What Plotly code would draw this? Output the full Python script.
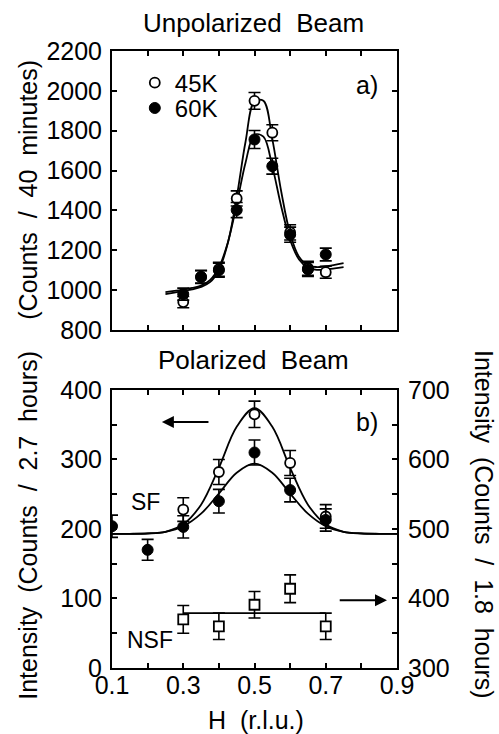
import plotly.graph_objects as go

# ---------------- data ----------------
# panel a) unpolarized beam
h_top = [0.3, 0.35, 0.4, 0.45, 0.5, 0.55, 0.6, 0.65, 0.7]
counts_45K = [940, 1065, 1105, 1460, 1950, 1790, 1290, 1110, 1090]
counts_60K = [980, 1067, 1100, 1402, 1756, 1622, 1278, 1104, 1179]
err_45K = [28, 32, 35, 38, 42, 40, 38, 35, 30]
err_60K = [30, 32, 35, 38, 45, 40, 38, 35, 32]

fit_h_top = [0.25, 0.275, 0.3, 0.325, 0.35, 0.375, 0.4, 0.425, 0.45, 0.475, 0.5,
             0.525, 0.55, 0.575, 0.6, 0.625, 0.65, 0.675, 0.7, 0.725, 0.75]
fit_45K = [980, 988, 996, 1004, 1016, 1040, 1101, 1235, 1466, 1746, 1947,
           1950, 1758, 1495, 1283, 1167, 1124, 1116, 1120, 1127, 1135]
fit_60K = [990, 996, 1003, 1011, 1023, 1050, 1114, 1238, 1430, 1641, 1780,
           1770, 1621, 1420, 1252, 1154, 1113, 1102, 1104, 1109, 1115]

# panel b) polarized beam
h_sf_open = [0.3, 0.4, 0.5, 0.6, 0.7]
sf_open = [228, 282, 365, 295, 218]
err_sf_open = [17, 18, 19, 18, 17]
h_sf_filled = [0.1, 0.2, 0.3, 0.4, 0.5, 0.6, 0.7]
sf_filled = [204, 170, 203, 240, 310, 256, 213]
err_sf_filled = [16, 15, 16, 17, 18, 17, 16]

fit_h_bot = [0.1, 0.15, 0.2, 0.25, 0.3, 0.35, 0.4, 0.45, 0.5,
             0.55, 0.6, 0.65, 0.7, 0.75, 0.8, 0.85, 0.9]
fit_sf_open = [193, 193, 193.5, 196, 206.7, 235, 288, 347, 374,
               347, 288, 235, 206.7, 196, 193.5, 193, 193]
fit_sf_filled = [193, 193.1, 193.7, 196, 204, 222, 251, 281, 294,
                 281, 251, 222, 204, 196, 193.7, 193.1, 193]

h_nsf = [0.3, 0.4, 0.5, 0.6, 0.7]
nsf = [370, 360, 391, 414, 360]          # right axis
err_nsf = [20, 19, 19, 20, 19]
fit_h_nsf = [0.3, 0.7]
fit_nsf = [379, 379]

x_ticks = [0.1, 0.2, 0.3, 0.4, 0.5, 0.6, 0.7, 0.8, 0.9]
x_ticktext = ["0.1", "", "0.3", "", "0.5", "", "0.7", "", "0.9"]
y_top_ticks = [800, 1000, 1200, 1400, 1600, 1800, 2000, 2200]
y_left_ticks = [0, 50, 100, 150, 200, 250, 300, 350, 400]
y_left_text = ["0", "", "100", "", "200", "", "300", "", "400"]
y_right_ticks = [300, 350, 400, 450, 500, 550, 600, 650, 700]
y_right_text = ["300", "", "400", "", "500", "", "600", "", "700"]

FONT = "Liberation Sans, Arial, sans-serif"
BLACK = "black"
SP = "\u00a0\u00a0"

fig = go.Figure()


def eb(vals):
    return dict(type="data", array=vals, visible=True, color=BLACK, thickness=1.6, width=6)


# ---- top panel ----
fig.add_trace(go.Scatter(x=fit_h_top, y=fit_45K, mode="lines", line=dict(color=BLACK, width=1.8, shape="spline"),
                         xaxis="x2", yaxis="y2", showlegend=False, hoverinfo="skip"))
fig.add_trace(go.Scatter(x=fit_h_top, y=fit_60K, mode="lines", line=dict(color=BLACK, width=1.8, shape="spline"),
                         xaxis="x2", yaxis="y2", showlegend=False, hoverinfo="skip"))
fig.add_trace(go.Scatter(x=h_top, y=counts_45K, mode="markers", name="45K", error_y=eb(err_45K),
                         marker=dict(symbol="circle", size=10, color="white", line=dict(color=BLACK, width=1.8)),
                         xaxis="x2", yaxis="y2", legend="legend"))
fig.add_trace(go.Scatter(x=h_top, y=counts_60K, mode="markers", name="60K", error_y=eb(err_60K),
                         marker=dict(symbol="circle", size=11, color=BLACK, line=dict(color=BLACK, width=1)),
                         xaxis="x2", yaxis="y2", legend="legend2"))

# ---- bottom panel ----
fig.add_trace(go.Scatter(x=fit_h_bot, y=fit_sf_open, mode="lines", line=dict(color=BLACK, width=1.8, shape="spline"),
                         xaxis="x", yaxis="y", showlegend=False, hoverinfo="skip"))
fig.add_trace(go.Scatter(x=fit_h_bot, y=fit_sf_filled, mode="lines", line=dict(color=BLACK, width=1.8, shape="spline"),
                         xaxis="x", yaxis="y", showlegend=False, hoverinfo="skip"))
fig.add_trace(go.Scatter(x=h_sf_open, y=sf_open, mode="markers", error_y=eb(err_sf_open), showlegend=False,
                         marker=dict(symbol="circle", size=10, color="white", line=dict(color=BLACK, width=1.8)),
                         xaxis="x", yaxis="y"))
fig.add_trace(go.Scatter(x=h_sf_filled, y=sf_filled, mode="markers", error_y=eb(err_sf_filled), showlegend=False,
                         marker=dict(symbol="circle", size=11, color=BLACK, line=dict(color=BLACK, width=1)),
                         xaxis="x", yaxis="y"))
fig.add_trace(go.Scatter(x=fit_h_nsf, y=fit_nsf, mode="lines", line=dict(color=BLACK, width=1.8),
                         xaxis="x", yaxis="y3", showlegend=False, hoverinfo="skip"))
fig.add_trace(go.Scatter(x=h_nsf, y=nsf, mode="markers", error_y=eb(err_nsf), showlegend=False,
                         marker=dict(symbol="square", size=10, color="white", line=dict(color=BLACK, width=1.8)),
                         xaxis="x", yaxis="y3"))

TICKSIZE = 25
axis_common = dict(showline=True, linecolor=BLACK, linewidth=2, ticks="inside", ticklen=5, tickwidth=1.5,
                   tickcolor=BLACK, showgrid=False, zeroline=False,
                   tickfont=dict(family=FONT, size=TICKSIZE, color=BLACK))

TOP_DOM = [0.5478, 1.0]
BOT_DOM = [0.0, 0.4506]

legend_common = dict(xanchor="left", yanchor="middle", bgcolor="rgba(0,0,0,0)",
                     font=dict(family=FONT, size=24, color=BLACK), itemwidth=30)

fig.update_layout(
    width=499, height=734,
    margin=dict(l=112, r=102, t=51, b=66, autoexpand=False),
    paper_bgcolor="white", plot_bgcolor="white",
    font=dict(family=FONT, size=24, color=BLACK),
    xaxis=dict(axis_common, range=[0.1, 0.9], tickvals=x_ticks, ticktext=x_ticktext, mirror="ticks",
               anchor="y", domain=[0, 1], ticklabelstandoff=-6),
    xaxis2=dict(axis_common, range=[0.1, 0.9], tickvals=x_ticks, showticklabels=False, mirror="ticks",
                anchor="y2", domain=[0, 1]),
    yaxis=dict(axis_common, range=[0, 400], tickvals=y_left_ticks, ticktext=y_left_text, mirror=True,
               domain=BOT_DOM, anchor="x", ticklabelstandoff=3),
    yaxis2=dict(axis_common, range=[800, 2200], tickvals=y_top_ticks, mirror="ticks",
                domain=TOP_DOM, anchor="x2", ticklabelstandoff=3),
    yaxis3=dict(axis_common, range=[300, 700], tickvals=y_right_ticks, ticktext=y_right_text,
                overlaying="y", side="right", anchor="x", ticklabelstandoff=4),
    legend=dict(legend_common, x=0.08, y=0.948),
    legend2=dict(legend_common, x=0.08, y=0.907),
    showlegend=True,
)

ann = [
    dict(text="Unpolarized" + SP + "Beam", x=0.498, y=1.045, xref="paper", yref="paper", showarrow=False,
         font=dict(size=26), xanchor="center", yanchor="middle"),
    dict(text="Polarized" + SP + "Beam", x=0.498, y=0.499, xref="paper", yref="paper", showarrow=False,
         font=dict(size=26), xanchor="center", yanchor="middle"),
    dict(text="(Counts" + SP + "/" + SP + "40" + SP + "minutes)", x=-0.295, y=0.775, xref="paper", yref="paper",
         showarrow=False, textangle=-90, font=dict(size=25), xanchor="center", yanchor="middle"),
    dict(text="Intensity" + SP + "(Counts" + SP + "/" + SP + "2.7" + SP + "hours)", x=-0.295, y=0.232,
         xref="paper", yref="paper", showarrow=False, textangle=-90, font=dict(size=25),
         xanchor="center", yanchor="middle"),
    dict(text="Intensity" + SP + "(Counts" + SP + "/" + SP + "1.8" + SP + "hours)", x=1.305, y=0.232,
         xref="paper", yref="paper", showarrow=False, textangle=90, font=dict(size=25),
         xanchor="center", yanchor="middle"),
    dict(text="H" + SP + "(r.l.u.)", x=0.505, y=-0.085, xref="paper", yref="paper", showarrow=False,
         font=dict(size=25), xanchor="center", yanchor="middle"),
    dict(text="a)", x=0.816, y=2029, xref="x2", yref="y2", showarrow=False, font=dict(size=25)),
    dict(text="b)", x=0.816, y=354, xref="x", yref="y", showarrow=False, font=dict(size=25)),
    dict(text="SF", x=0.193, y=239, xref="x", yref="y", showarrow=False, font=dict(size=23)),
    dict(text="NSF", x=0.207, y=40, xref="x", yref="y", showarrow=False, font=dict(size=23)),
    dict(text="", x=0.24, y=354, ax=0.375, ay=354, xref="x", yref="y", axref="x", ayref="y",
         showarrow=True, arrowhead=2, arrowsize=1.2, arrowwidth=2, arrowcolor=BLACK),
    dict(text="", x=0.872, y=97.5, ax=0.735, ay=97.5, xref="x", yref="y", axref="x", ayref="y",
         showarrow=True, arrowhead=2, arrowsize=1.2, arrowwidth=2, arrowcolor=BLACK),
]
fig.update_layout(annotations=ann)

fig.write_html("out.html", config={"displayModeBar": False},
               post_script="document.body.style.margin='0';")
